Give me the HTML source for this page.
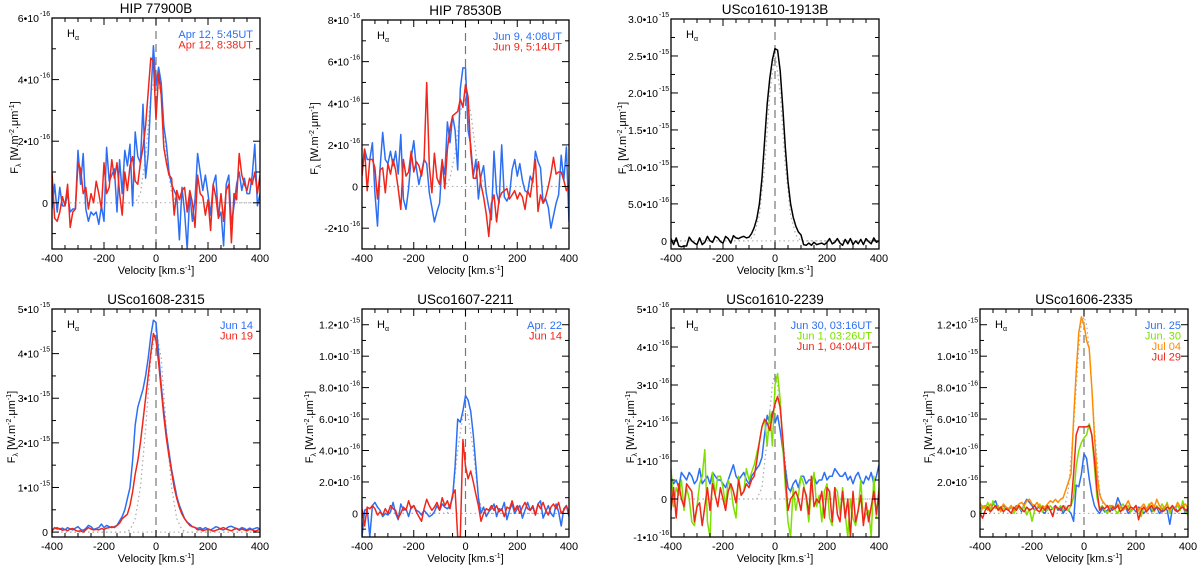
<!DOCTYPE html>
<html><head><meta charset="utf-8"><style>
body{margin:0;background:#fff}
svg{display:block;font-family:"Liberation Sans",Arial,sans-serif}
</style></head><body>
<svg id="fig" width="1200" height="569" viewBox="0 0 1200 569" xmlns="http://www.w3.org/2000/svg"></svg>
<script>
// ---- data (velocity grid derived from array length: -400..400 km/s, 10 km/s steps) ----
const xTicks = [-400,-200,0,200,400];
const xTickLabels = ["-400","-200","0","200","400"];

// Panel 1: HIP 77900B (units 1e-16)
const p1Blue = [-0.2,0.6,-0.3,0.5,-0.1,-0.1,0.3,-0.3,-0.2,-0.2,1.7,0.6,1.6,-0.2,-0.6,-0.3,-0.4,-0.3,-0.7,-0.1,-0.6,1.8,0.7,0.9,1.1,-0.3,1.4,0.3,1.7,1.2,1.9,-0.1,2.3,1.5,1.3,3.2,0.8,1.6,3.4,5.1,3.8,4.4,3.9,2.5,1.9,1.0,0.6,0.4,0.2,-1.2,0.5,-0.3,-1.5,0.3,-0.6,0.1,1.6,1.0,0.4,0.9,0.3,-0.4,0.6,0.9,-0.5,-0.3,-1.4,0.6,0.9,-0.7,-0.1,0.6,1.0,0.4,0.8,0.3,0.3,0.9,1.9,-0.1,0.3];
const p1Red = [1.0,-0.5,-0.6,-0.3,0.2,-0.1,0.6,-0.8,-0.3,-0.2,1.3,1.1,0.3,0.5,-0.2,0.3,0.0,0.7,0.3,-0.2,1.3,0.3,0.5,1.4,0.8,1.3,0.3,-0.4,1.0,0.4,1.2,1.5,0.7,0.6,1.3,1.8,2.5,3.6,4.7,4.6,2.7,4.2,3.5,1.8,1.3,0.9,0.8,-0.4,0.4,0.1,0.4,0.5,-0.3,0.4,0.0,-0.8,0.9,0.3,0.2,-0.4,0.1,-0.9,0.6,0.2,-0.5,0.3,-0.6,0.4,0.6,-1.3,0.3,0.1,1.6,0.9,0.6,0.4,0.8,0.6,1.0,0.3,0.9];
const p1ModelV = [-400,-80,-60,-40,-20,0,20,40,60,80,400];
const p1ModelF = [0,0,0.3,1.5,3.5,4.2,3.5,1.5,0.3,0,0];

// Panel 2: HIP 78530B (units 1e-16)
const p2Blue = [0.8,1.8,1.3,1.3,2.1,-0.3,-1.9,0.9,2.6,1.3,1.1,1.7,1.0,1.7,0.6,2.5,-0.6,-1.1,-0.1,1.4,2.2,0.9,0.1,0.7,1.3,1.1,-0.3,-1.0,-1.7,-1.2,-0.8,1.2,0.6,3.1,2.1,3.4,2.7,0.8,4.7,5.7,5.7,2.7,2.0,0.5,1.3,-0.6,0.5,1.0,-0.3,-1.0,-1.6,1.7,-0.3,-0.8,2.0,-0.5,-0.7,-0.4,0.8,1.3,0.5,1.1,0.3,-0.2,-0.3,0.5,0.2,1.7,1.2,0.9,-0.8,-0.6,-1.0,-2.0,-1.4,-0.8,-0.4,1.5,0.3,1.9,-1.7];
const p2Red = [0.5,1.8,-0.2,1.3,1.3,0.9,-0.6,0.8,0.9,-0.3,1.1,0.6,1.3,0.8,-0.1,-1.1,1.3,0.5,0.7,1.7,0.7,1.2,1.0,0.5,1.3,5.0,1.0,-0.3,1.6,0.4,0.1,1.3,-0.1,1.8,2.8,3.4,3.5,3.6,4.2,3.8,4.9,4.3,1.7,0.4,0.4,1.2,0.1,-0.5,-1.3,-2.4,-0.8,-0.4,-1.7,-0.6,-0.3,-0.2,-0.1,-0.6,-0.4,-0.2,-0.6,-0.3,-0.5,-1.1,-0.2,-0.5,0.4,1.3,-1.2,-0.4,-0.8,-0.5,0.0,0.6,1.4,0.6,0.7,0.7,0.3,-0.2,0.1];
const p2ModelV = [-400,-80,-60,-40,-20,0,20,40,60,80,400];
const p2ModelF = [0,0,0.4,1.6,3.6,4.3,3.6,1.6,0.4,0,0];

// Panel 3: USco1610-1913B (units 1e-15)
const p3Black = [0.03,-0.05,0.04,-0.07,-0.08,-0.07,-0.07,0.05,0.0,-0.03,-0.05,0.04,-0.05,-0.02,0.06,0.0,-0.02,0.06,0.04,-0.01,-0.03,0.06,0.03,-0.03,0.07,0.04,0.03,0.05,0.06,0.04]
  .concat([0.05,0.1,0.18,0.3,0.5,0.85,1.35,1.85,2.2,2.45,2.6,2.58,2.3,1.8,1.25,0.8,0.5,0.32,0.2,0.12,0.08])
  .concat([-0.05,-0.06,-0.03,-0.06,-0.02,-0.05,-0.04,-0.03,-0.05,-0.02,0.03,-0.04,-0.02,0.03,-0.03,-0.06,0.02,-0.04,0.03,-0.05,0.0,-0.04,0.02,-0.05,0.03,-0.01,-0.04,0.04,-0.02,0.0]);
const p3ModelV = [-400,-100,-80,-60,-40,-20,0,20,40,60,80,100,400];
const p3ModelF = [0,0,0.08,0.35,1.0,2.0,2.55,2.0,1.0,0.35,0.08,0,0];

// Panel 4: USco1608-2315 (units 1e-15)
const p4Blue = [0.05,0.08,0.1,0.06,0.09,0.05,0.1,0.07,0.05,0.09,0.12,0.06,0.04,0.08,0.15,0.12,0.06,0.08,0.1,0.18,0.1,0.15,0.12,0.1,0.12]
  .concat([0.15,0.25,0.35,0.5,0.75,1.0,1.6,2.4,2.8,3.0,3.2,3.5,3.9,4.4,4.75,4.7,4.0,3.3,2.7,2.2,1.8,1.4,1.1,0.8,0.6,0.45,0.3,0.22,0.18,0.12,0.1])
  .concat([0.08,0.1,0.06,0.1,0.07,0.05,0.08,0.12,0.1,0.06,0.05,0.08,0.12,0.13,0.1,0.08,0.06,0.1,0.08,0.05,0.09,0.06,0.08,0.1,0.06]);
const p4Red = [0.02,0.1,0.07,0.08,0.04,0.06,0.03,0.07,0.08,0.04,0.02,0.03,0.0,0.05,0.1,0.07,0.05,0.06,0.05,0.08,0.06,0.09,0.1,0.12,0.1]
  .concat([0.15,0.2,0.3,0.35,0.4,0.6,0.9,1.3,1.6,2.0,2.5,3.0,3.5,4.0,4.45,4.3,3.8,3.2,2.6,2.1,1.7,1.35,1.0,0.75,0.55,0.4,0.3,0.22,0.15,0.12,0.1])
  .concat([0.05,0.06,0.03,0.05,0.07,0.05,0.02,0.04,0.06,0.08,0.1,0.07,0.05,0.03,0.06,0.08,0.04,0.07,0.05,0.03,0.06,0.05,0.02,0.04,0.07]);
const p4ModelV = [-400,-120,-100,-80,-60,-40,-20,0,20,40,60,80,100,120,400];
const p4ModelF = [0,0,0.05,0.3,1.0,2.3,3.9,4.55,3.9,2.3,1.0,0.3,0.05,0,0];

// Panel 5: USco1607-2211 (units 1e-15)
const p5Blue = [-0.15,0.02,0.03,-0.15,0.05,0.07,0.04,0.02,-0.02,0.0,-0.01,0.01,0.07,0.0,-0.04,0.06,0.02,0.03,-0.02,0.04,0.05,0.02,0.01,-0.01,0.02,0.0,-0.02,-0.01,0.01,0.05]
  .concat([0.02,0.06,0.04,0.03,0.05,0.1,0.3,0.6,0.58,0.65,0.75,0.72,0.65,0.5,0.3,0.1,0.0,0.04,-0.02,0.01,0.03])
  .concat([0.06,-0.02,0.03,0.02,0.07,-0.04,0.02,0.06,0.0,0.03,0.05,-0.03,0.02,0.07,0.02,0.04,-0.01,0.06,0.08,-0.03,0.01,0.05,0.0,-0.02,0.06,0.01,-0.08,0.03,0.05,-0.02]);
const p5Red = [0.03,-0.08,0.04,0.03,0.05,0.03,-0.01,0.01,-0.01,0.03,0.0,0.05,0.03,0.02,-0.03,0.0,0.04,0.02,0.08,0.03,0.05,0.01,-0.02,-0.05,0.03,0.09,0.05,0.02,0.04,0.07]
  .concat([0.02,0.1,0.05,0.08,0.03,0.12,0.15,-0.15,-0.15,0.47,0.3,0.22,0.27,0.2,0.12,0.05,-0.05,0.0,0.03,0.02,0.05])
  .concat([0.02,0.05,0.01,0.03,-0.02,0.04,0.03,0.08,0.02,0.05,0.0,0.04,0.07,0.03,0.02,0.05,-0.01,0.06,0.03,0.07,0.02,-0.01,0.04,0.06,0.03,0.07,0.0,0.02,0.05,0.0]);
const p5ModelV = [-400,-70,-50,-30,-10,0,10,30,50,70,400];
const p5ModelF = [0,0,0.1,0.4,0.62,0.65,0.62,0.4,0.1,0,0];

// Panel 6: USco1610-2239 (units 1e-16)
const p6Blue = [0.6,0.4,0.5,0.3,0.7,0.6,0.5,0.7,0.6,0.4,0.5,0.8,0.4,0.5,0.6,0.4,0.7,0.6,0.5,0.5,0.4,0.3,0.5,0.7,0.9,0.6,0.5,0.6,0.7,0.5]
  .concat([0.4,0.6,0.7,0.8,0.9,1.1,1.7,2.2,2.0,2.3,2.0,2.2,1.8,1.3,0.8,0.3,0.2,0.4,0.5,0.3,0.6])
  .concat([0.6,0.4,0.5,0.5,0.6,0.4,0.5,0.5,0.7,0.5,0.6,0.6,0.8,0.7,0.6,0.6,0.7,0.5,0.6,0.4,0.6,0.7,0.5,0.4,0.6,0.5,0.7,0.4,0.6,0.9]);
const p6Green = [0.8,-0.2,0.3,0.1,0.5,-0.3,0.3,0.0,-0.6,-0.7,-0.2,0.4,0.6,1.3,-0.6,-1.0,0.7,0.1,0.6,0.6,0.3,-0.2,0.5,0.3,-0.2,-0.5,0.6,0.1,0.2,0.8]
  .concat([0.5,0.7,0.9,1.2,1.5,1.9,2.1,1.4,2.3,1.4,3.0,3.3,2.6,1.4,0.3,-0.6,-1.0,0.3,-0.3,0.1,0.6])
  .concat([0.4,0.0,-0.6,0.3,0.7,-0.2,0.1,-0.6,0.2,0.4,-0.5,-0.7,0.3,0.2,-0.4,0.3,-0.4,-1.0,0.0,-0.5,-0.7,-0.3,0.5,-0.6,-0.4,-0.3,-1.0,0.6,-0.5,0.3]);
const p6Red = [-0.3,0.3,-0.5,0.4,0.0,-0.2,0.4,0.3,0.2,-0.6,-0.2,-0.1,-0.7,-0.2,0.3,-0.3,0.4,0.1,-0.2,0.3,0.0,-0.3,0.2,0.4,0.2,-0.1,0.5,0.1,0.2,0.4]
  .concat([0.3,0.5,0.6,1.0,1.5,1.9,2.1,2.0,1.8,2.2,2.5,2.7,2.4,1.6,0.6,-0.3,0.0,0.1,0.2,0.0,-0.3])
  .concat([0.3,0.1,-0.4,0.6,-0.2,0.0,-0.1,0.2,-0.5,0.3,0.2,-0.6,0.3,-0.4,-0.6,0.2,-0.5,0.0,-1.0,0.2,-0.6,-0.3,0.1,-0.7,-0.1,-0.6,-0.2,0.2,-0.4,0.2]);
const p6ModelV = [-400,-70,-50,-30,-10,0,10,30,50,70,400];
const p6ModelF = [0,0,0.3,1.6,3.0,3.3,3.0,1.6,0.3,0,0];

// Panel 7: USco1606-2335 (units 1e-15)
const p7Blue = [0.03,0.04,0.05,0.04,0.02,0.06,0.08,0.03,0.04,0.05,0.03,0.02,0.04,0.02,0.05,0.04,0.01,0.06,0.09,0.07,0.05,0.02,0.03,0.05,0.01,0.0,0.04,0.02,0.03,0.05]
  .concat([0.02,0.04,0.0,0.03,0.02,0.0,-0.05,0.18,0.17,0.25,0.38,0.35,0.22,0.12,0.05,0.02,0.0,0.03,0.01,0.02,0.04])
  .concat([0.02,0.04,0.1,0.06,0.02,0.04,0.0,0.02,0.03,0.01,0.04,0.03,0.0,0.02,0.05,0.01,0.03,0.04,0.0,0.02,0.04,0.02,-0.07,0.03,0.04,0.01,0.03,0.05,0.0,0.03]);
const p7Green = [-0.02,0.05,0.03,0.07,0.02,0.08,0.03,0.05,0.01,0.03,0.04,0.02,0.05,0.0,0.03,0.04,0.02,0.05,-0.01,0.03,-0.05,0.02,0.04,0.06,0.01,0.03,0.02,0.05,0.03,0.04]
  .concat([0.03,0.05,0.02,0.04,0.02,0.05,0.1,0.3,0.4,0.45,0.48,0.5,0.57,0.5,0.3,0.1,0.03,0.05,0.02,0.0,0.04])
  .concat([0.05,0.02,0.0,0.04,0.06,0.03,0.05,0.01,0.03,0.05,0.02,-0.02,0.04,0.02,0.06,0.03,0.01,0.05,0.02,0.06,0.03,0.07,0.0,0.04,0.03,0.05,0.02,0.08,0.01,-0.01]);
const p7Orange = [0.07,0.03,0.05,0.02,0.06,0.03,0.05,0.04,0.02,0.06,0.04,0.03,0.05,0.02,0.04,0.06,0.07,0.05,0.08,0.09,0.06,0.05,0.07,0.03,0.05,0.04,0.06,0.08,0.07,0.09]
  .concat([0.07,0.09,0.1,0.15,0.2,0.25,0.6,0.9,1.15,1.25,1.2,1.1,1.05,0.8,0.5,0.25,0.12,0.08,0.06,0.04,0.05])
  .concat([0.05,0.03,0.06,0.04,0.02,0.05,0.08,0.04,0.03,0.05,0.02,0.04,0.06,0.03,0.05,0.07,0.04,0.09,0.05,0.03,0.04,0.06,0.02,0.05,0.03,0.07,0.04,0.05,0.06,0.03]);
const p7Red = [0.0,-0.03,0.02,0.04,0.01,0.03,0.05,0.02,0.04,0.01,0.03,0.02,0.0,0.04,0.02,0.05,0.03,0.01,0.04,0.02,0.03,0.05,0.02,0.01,0.04,0.02,0.05,0.02,-0.02,0.05]
  .concat([0.03,0.02,0.05,0.02,0.05,0.05,0.25,0.5,0.55,0.55,0.55,0.55,0.56,0.5,0.35,0.15,0.02,0.04,0.03,0.05,0.01])
  .concat([0.04,0.03,0.05,0.01,0.03,0.05,0.02,0.04,0.03,0.05,-0.04,0.02,0.04,0.01,0.03,0.05,0.02,0.04,0.03,0.01,0.02,0.04,0.03,0.05,0.02,0.01,0.03,0.04,0.02,0.03]);
const p7ModelV = [-400,-80,-60,-40,-20,-10,0,10,20,40,60,80,400];
const p7ModelF = [0,0,0.15,0.55,1.05,1.2,1.25,1.2,1.05,0.55,0.15,0,0];

const BLUE="#2d6ff4", RED="#f0261b", GREEN="#7ee000", ORANGE="#ff8c00";

const panels = [
 {name:"hip-77900b",title:"HIP 77900B",x0:52,y0:18,x1:260,y1:249,ymin:-1.5,ymax:6,
  yt:[0,2,4,6],yl:[["0",""],["2•10","-16"],["4•10","-16"],["6•10","-16"]],ylx:14,
  series:[[p1Blue,BLUE,"blue"],[p1Red,RED,"red"]],mv:p1ModelV,mf:p1ModelF,
  legend:[["Apr 12, 5:45UT",BLUE],["Apr 12, 8:38UT",RED]]},
 {name:"hip-78530b",title:"HIP 78530B",x0:362,y0:20,x1:569,y1:249,ymin:-3,ymax:8,
  yt:[-2,0,2,4,6,8],yl:[["-2•10","-16"],["0",""],["2•10","-16"],["4•10","-16"],["6•10","-16"],["8•10","-16"]],ylx:314,
  series:[[p2Blue,BLUE,"blue"],[p2Red,RED,"red"]],mv:p2ModelV,mf:p2ModelF,
  legend:[["Jun 9, 4:08UT",BLUE],["Jun 9, 5:14UT",RED]]},
 {name:"usco1610-1913b",title:"USco1610-1913B",x0:671,y0:19,x1:879,y1:249,ymin:-0.11,ymax:3.0,
  yt:[0,0.5,1,1.5,2,2.5,3],yl:[["0",""],["5.0•10","-16"],["1.0•10","-15"],["1.5•10","-15"],["2.0•10","-15"],["2.5•10","-15"],["3.0•10","-15"]],ylx:622,
  series:[[p3Black,"#000","black"]],mv:p3ModelV,mf:p3ModelF,legend:[]},
 {name:"usco1608-2315",title:"USco1608-2315",x0:52,y0:309,x1:260,y1:537,ymin:-0.11,ymax:5,
  yt:[0,1,2,3,4,5],yl:[["0",""],["1•10","-15"],["2•10","-15"],["3•10","-15"],["4•10","-15"],["5•10","-15"]],ylx:11,
  series:[[p4Blue,BLUE,"blue"],[p4Red,RED,"red"]],mv:p4ModelV,mf:p4ModelF,
  legend:[["Jun 14",BLUE],["Jun 19",RED]]},
 {name:"usco1607-2211",title:"USco1607-2211",x0:362,y0:309,x1:569,y1:537,ymin:-0.15,ymax:1.3,
  yt:[0,0.2,0.4,0.6,0.8,1.0,1.2],yl:[["0",""],["2.0•10","-16"],["4.0•10","-16"],["6.0•10","-16"],["8.0•10","-16"],["1.0•10","-15"],["1.2•10","-15"]],ylx:309,
  series:[[p5Blue,BLUE,"blue"],[p5Red,RED,"red"]],mv:p5ModelV,mf:p5ModelF,
  legend:[["Apr. 22",BLUE],["Jun 14",RED]]},
 {name:"usco1610-2239",title:"USco1610-2239",x0:671,y0:309,x1:879,y1:537,ymin:-1,ymax:5,
  yt:[-1,0,1,2,3,4,5],yl:[["-1•10","-16"],["0",""],["1•10","-16"],["2•10","-16"],["3•10","-16"],["4•10","-16"],["5•10","-16"]],ylx:630,
  series:[[p6Blue,BLUE,"blue"],[p6Green,GREEN,"green"],[p6Red,RED,"red"]],mv:p6ModelV,mf:p6ModelF,
  legend:[["Jun 30, 03:16UT",BLUE],["Jun 1, 03:26UT",GREEN],["Jun 1, 04:04UT",RED]]},
 {name:"usco1606-2335",title:"USco1606-2335",x0:980,y0:309,x1:1188,y1:537,ymin:-0.15,ymax:1.3,
  yt:[0,0.2,0.4,0.6,0.8,1.0,1.2],yl:[["0",""],["2.0•10","-16"],["4.0•10","-16"],["6.0•10","-16"],["8.0•10","-16"],["1.0•10","-15"],["1.2•10","-15"]],ylx:928,
  series:[[p7Blue,BLUE,"blue"],[p7Green,GREEN,"green"],[p7Orange,ORANGE,"orange"],[p7Red,RED,"red"]],mv:p7ModelV,mf:p7ModelF,
  legend:[["Jun. 25",BLUE],["Jun. 30",GREEN],["Jul 04",ORANGE],["Jul 29",RED]]}
];

const NS="http://www.w3.org/2000/svg";
const svg=document.getElementById("fig");
function mk(tag,attrs,parent){const e=document.createElementNS(NS,tag);for(const k in attrs)e.setAttribute(k,attrs[k]);(parent||svg).appendChild(e);return e;}

panels.forEach(p=>{
  const g=mk("g",{});
  
  
  const sx=v=>p.x0+(v+400)/800*(p.x1-p.x0);
  const sy=f=>p.y1-(f-p.ymin)/(p.ymax-p.ymin)*(p.y1-p.y0);
  const clipId="clip-"+p.name;
  const cp=mk("clipPath",{id:clipId},g);
  mk("rect",{x:p.x0,y:p.y0,width:p.x1-p.x0,height:p.y1-p.y0},cp);
  const plot=mk("g",{"clip-path":"url(#"+clipId+")"},g);
  const zl=mk("line",{x1:p.x0,x2:p.x1,y1:sy(0),y2:sy(0),stroke:"#aaa","stroke-width":1,"stroke-dasharray":"1.5,3"},plot);
  
  
  const md=p.mv.map((v,i)=>(i?"L":"M")+sx(v).toFixed(1)+","+sy(p.mf[i]).toFixed(1)).join("");
  const mp=mk("path",{d:md,fill:"none",stroke:"#aaa","stroke-width":1.2,"stroke-dasharray":"1.5,3"},plot);
  
  
  const vl=mk("line",{x1:sx(0),x2:sx(0),y1:p.y0,y2:p.y1,stroke:"#777","stroke-width":1.2,"stroke-dasharray":"8,5"},plot);
  
  
  p.series.forEach(s=>{
    const arr=s[0],n=arr.length;
    const d=arr.map((f,i)=>(i?"L":"M")+sx(-400+800*i/(n-1)).toFixed(1)+","+sy(f).toFixed(1)).join("");
    const pe=mk("path",{d:d,fill:"none",stroke:s[1],"stroke-width":1.5,"stroke-linejoin":"round"},plot);
    
    
  });
  const fr=mk("rect",{x:p.x0,y:p.y0,width:p.x1-p.x0,height:p.y1-p.y0,fill:"none",stroke:"#000","stroke-width":1.3},g);
  
  
  for(let v=-400;v<=400;v+=50){
    const L=(v%200===0)?7:4,x=sx(v);
    mk("line",{x1:x,x2:x,y1:p.y1,y2:p.y1-L,stroke:"#000","stroke-width":1},g);
    mk("line",{x1:x,x2:x,y1:p.y0,y2:p.y0+L,stroke:"#000","stroke-width":1},g);
  }
  xTicks.forEach((v,i)=>{
    const t=mk("text",{x:sx(v),y:p.y1+13,"font-size":11,"text-anchor":"middle"},g);
    t.textContent=xTickLabels[i];
    
    
  });
  const step=p.yt[1]-p.yt[0];
  for(let k=-10;k<=p.yt.length*2+10;k++){
    const v=p.yt[0]+k*step/2;
    if(v<p.ymin-1e-9||v>p.ymax+1e-9)continue;
    const L=(k%2===0)?7:4,y=sy(v);
    mk("line",{x1:p.x0,x2:p.x0+L,y1:y,y2:y,stroke:"#000","stroke-width":1},g);
    mk("line",{x1:p.x1,x2:p.x1-L,y1:y,y2:y,stroke:"#000","stroke-width":1},g);
  }
  p.yt.forEach((v,i)=>{
    const lab=p.yl[i];
    const t=mk("text",{x:p.x0-(lab[1]?13:4),y:sy(v)+4,"font-size":10.5,"text-anchor":"end"},g);
    t.textContent=lab[0];
    
    
    if(lab[1]){
      const s=mk("text",{x:p.x0-12,y:sy(v)-2,"font-size":7},g);
      s.textContent=lab[1];
      
      
    }
  });
  const tt=mk("text",{x:(p.x0+p.x1)/2,y:p.y0-5,"font-size":13.5,"text-anchor":"middle"},g);
  tt.textContent=p.title;
  
  
  const xl=mk("text",{x:(p.x0+p.x1)/2,y:p.y1+25,"font-size":11,"text-anchor":"middle"},g);
  xl.innerHTML='Velocity [km.s<tspan dy="-4" font-size="7">-1</tspan><tspan dy="4">]</tspan>';
  
  
  const cy=(p.y0+p.y1)/2;
  const yl=mk("text",{x:p.ylx,y:cy,"font-size":11,"text-anchor":"middle",transform:"rotate(-90 "+(p.ylx+4)+" "+cy+")"},g);
  yl.innerHTML='F<tspan dy="3" font-size="7">λ</tspan><tspan dy="-3"> [W.m</tspan><tspan dy="-4" font-size="7">-2</tspan><tspan dy="4">.μm</tspan><tspan dy="-4" font-size="7">-1</tspan><tspan dy="4">]</tspan>';
  
  
  const ha=mk("text",{x:p.x0+15,y:p.y0+19,"font-size":11},g);
  ha.innerHTML='H<tspan dy="3" font-size="7">α</tspan>';
  
  
  p.legend.forEach((l,i)=>{
    const t=mk("text",{x:p.x1-7,y:p.y0+20+i*10.5,"font-size":11,"text-anchor":"end",fill:l[1]},g);
    t.textContent=l[0];
    
    
  });
});
</script>
</body></html>
